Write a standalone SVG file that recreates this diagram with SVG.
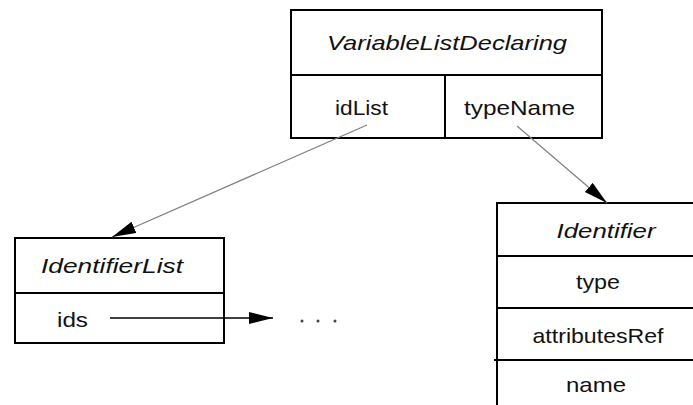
<svg xmlns="http://www.w3.org/2000/svg" width="693" height="405" viewBox="0 0 693 405">
<style>
.box{fill:#fff;stroke:#000;stroke-width:2}
.div{stroke:#000;stroke-width:2;fill:none}
.t{font-family:"Liberation Sans",Arial,sans-serif;font-size:21px;fill:#111;text-anchor:middle}
.ti{font-style:italic}
.gray{stroke:#808080;stroke-width:1.2;fill:none}
.blk{stroke:#000;stroke-width:1.5;fill:none}
</style>
<defs>
<marker id="ah" markerUnits="userSpaceOnUse" markerWidth="26" markerHeight="14" refX="24" refY="6" orient="auto">
<path d="M0,0 L24,6 L0,12 Z" fill="#000"/>
</marker>
</defs>
<rect width="693" height="405" fill="#fff"/>
<g id="VariableListDeclaring">
<rect class="box" x="291" y="10" width="311" height="128"/>
<line class="div" x1="291" y1="75" x2="602" y2="75"/>
<line class="div" x1="445" y1="75" x2="445" y2="138"/>
<text class="t ti" x="447" y="50" textLength="240" lengthAdjust="spacingAndGlyphs">VariableListDeclaring</text>
<text class="t" x="361.5" y="115" textLength="53" lengthAdjust="spacingAndGlyphs">idList</text>
<text class="t" x="519.5" y="115" textLength="111" lengthAdjust="spacingAndGlyphs">typeName</text>
</g>
<g id="IdentifierList">
<rect class="box" x="15" y="238" width="209" height="105"/>
<line class="div" x1="15" y1="293" x2="224" y2="293"/>
<text class="t ti" x="112" y="273" textLength="142" lengthAdjust="spacingAndGlyphs">IdentifierList</text>
<text class="t" x="72.5" y="327" textLength="31" lengthAdjust="spacingAndGlyphs">ids</text>
</g>
<g id="Identifier">
<rect class="box" x="497" y="203" width="210" height="215"/>
<line class="div" x1="497" y1="256" x2="707" y2="256"/>
<line class="div" x1="497" y1="308" x2="707" y2="308"/>
<line class="div" x1="494" y1="360" x2="707" y2="360"/>
<text class="t ti" x="606" y="238" textLength="99" lengthAdjust="spacingAndGlyphs">Identifier</text>
<text class="t" x="598" y="289" textLength="44" lengthAdjust="spacingAndGlyphs">type</text>
<text class="t" x="598" y="343" textLength="131" lengthAdjust="spacingAndGlyphs">attributesRef</text>
<text class="t" x="596" y="392" textLength="60" lengthAdjust="spacingAndGlyphs">name</text>
</g>
<g id="ellipsis">
<circle cx="302" cy="321" r="1.5" fill="#444"/>
<circle cx="318" cy="321" r="1.5" fill="#444"/>
<circle cx="335" cy="321" r="1.5" fill="#444"/>
</g>
<g id="connectors">
<line class="gray" x1="367" y1="125" x2="112" y2="237" marker-end="url(#ah)"/>
<line class="gray" x1="517" y1="126" x2="607" y2="203" marker-end="url(#ah)"/>
<line class="blk" x1="110" y1="318" x2="273" y2="318" marker-end="url(#ah)"/>
</g>
</svg>
